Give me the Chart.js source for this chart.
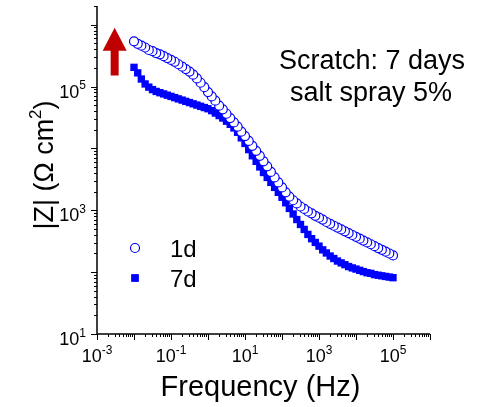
<!DOCTYPE html>
<html>
<head>
<meta charset="utf-8">
<script src="https://cdn.jsdelivr.net/npm/chart.js@4/dist/chart.umd.min.js"></script>
<style>
  html, body { margin: 0; padding: 0; background: #fff; }
</style>
</head>
<body>
<canvas id="chart" width="489" height="407"></canvas>
<script>
// frequency sweep, high -> low (Hz)
const frequency = [
  100000, 79400, 63100, 50100, 39800, 31600, 25100, 20000, 15800, 12600,
  10000, 7940, 6310, 5010, 3980, 3160, 2510, 2000, 1580, 1260,
  1000, 794, 631, 501, 398, 316, 251, 200, 158, 126,
  100, 79.4, 63.1, 50.1, 39.8, 31.6, 25.1, 20, 15.8, 12.6,
  10, 7.94, 6.31, 5.01, 3.98, 3.16, 2.51, 2, 1.58, 1.26,
  1, 0.794, 0.631, 0.501, 0.398, 0.316, 0.251, 0.2, 0.158, 0.126,
  0.1, 0.0794, 0.0631, 0.0501, 0.0398, 0.0316, 0.0251, 0.02, 0.0158, 0.0126,
  0.01
];
// |Z| in ohm cm2
const z1d = [
  186, 200, 214, 229, 245, 263, 282, 302, 324, 347,
  372, 398, 427, 457, 490, 525, 562, 603, 646, 708,
  759, 813, 891, 955, 1050, 1150, 1290, 1450, 1660, 1950,
  2340, 2820, 3390, 4170, 5130, 6170, 7590, 9120, 11000, 13200,
  15800, 18600, 22400, 26300, 30900, 36300, 42700, 49000, 58900, 69200,
  81300, 97700, 115000, 135000, 155000, 174000, 191000, 209000, 229000, 251000,
  269000, 288000, 309000, 331000, 347000, 372000, 389000, 427000, 457000, 490000,
  537000
];
const z7d = [
  81.3, 83.2, 85.1, 87.1, 89.1, 91.2, 95.5, 97.7, 102, 107,
  112, 117, 123, 132, 141, 151, 166, 182, 204, 229,
  263, 302, 347, 407, 490, 589, 708, 871, 1070, 1320,
  1620, 1950, 2340, 2820, 3390, 4070, 5010, 6170, 7590, 9550,
  12000, 14800, 18200, 21400, 24500, 27500, 30900, 33900, 37200, 40700,
  43700, 45700, 47900, 50100, 52500, 55000, 57500, 60300, 63100, 66100,
  69200, 72400, 75900, 79400, 83200, 89100, 97700, 110000, 132000, 166000,
  204000
];
const seriesNames = ['1d', '7d'];
const xLabelExps = [-3, -1, 1, 3, 5];
const yLabelExps = [1, 3, 5];
const noteLines = ['Scratch: 7 days', 'salt spray 5%'];

const FONT = '"Liberation Sans", Arial, sans-serif';
const BLUE = '#0000ff';

function toPoints(ys) {
  return frequency.map((f, i) => ({ x: f, y: ys[i] }));
}

// "10" with a raised exponent, anchored at x according to align
function drawPow(ctx, exp, x, y, align, size) {
  const big = `${size}px ${FONT}`, small = `${Math.round(size * 0.65)}px ${FONT}`;
  ctx.font = big;
  const wb = ctx.measureText('10').width;
  ctx.font = small;
  const we = ctx.measureText(String(exp)).width;
  let x0 = x;
  if (align === 'center') x0 = x - (wb + we) / 2;
  if (align === 'right') x0 = x - (wb + we);
  ctx.textAlign = 'left';
  ctx.textBaseline = 'alphabetic';
  ctx.font = big;
  ctx.fillText('10', x0, y);
  ctx.font = small;
  ctx.fillText(String(exp), x0 + wb, y - size * 0.45);
}

const axesPlugin = {
  id: 'originAxes',
  afterDatasetsDraw(chart) {
    const ctx = chart.ctx;
    const { left, right, top, bottom } = chart.chartArea;
    const xs = chart.scales.x, ys = chart.scales.y;
    ctx.save();
    ctx.strokeStyle = '#000';
    ctx.fillStyle = '#000';
    ctx.lineWidth = 1.5;
    ctx.beginPath();
    ctx.moveTo(left, top);
    ctx.lineTo(left, bottom);
    ctx.lineTo(right, bottom);
    ctx.stroke();

    ctx.lineWidth = 1;
    ctx.beginPath();
    for (let e = -3; e <= 6; e++) {
      for (let m = 1; m < 10; m++) {
        const v = m * Math.pow(10, e);
        if (v > xs.max * 1.0001) break;
        const px = Math.round(xs.getPixelForValue(v)) + 0.5;
        ctx.moveTo(px, bottom);
        ctx.lineTo(px, bottom + (m === 1 ? 6 : 3));
      }
    }
    for (let e = 1; e <= 6; e++) {
      for (let m = 1; m < 10; m++) {
        const v = m * Math.pow(10, e);
        if (v > ys.max * 1.0001) break;
        const py = Math.round(ys.getPixelForValue(v)) + 0.5;
        ctx.moveTo(left, py);
        ctx.lineTo(left - (m === 1 ? 6 : 3), py);
      }
    }
    ctx.stroke();

    // tick labels
    xLabelExps.forEach(e => {
      drawPow(ctx, e, xs.getPixelForValue(Math.pow(10, e)), bottom + 28, 'center', 18);
    });
    yLabelExps.forEach(e => {
      drawPow(ctx, e, left - 11, ys.getPixelForValue(Math.pow(10, e)) + 11, 'right', 18);
    });

    // axis titles
    ctx.font = `29px ${FONT}`;
    ctx.textAlign = 'center';
    ctx.fillText('Frequency (Hz)', (left + right) / 2 - 3, bottom + 62);

    ctx.save();
    ctx.translate(53, 165);
    ctx.rotate(-Math.PI / 2);
    const partA = '|Z| (\u03A9 cm', partB = ')';
    ctx.font = `27px ${FONT}`;
    const wa = ctx.measureText(partA).width, wbb = ctx.measureText(partB).width;
    ctx.font = `17px ${FONT}`;
    const ws = ctx.measureText('2').width;
    let x0 = -(wa + ws + wbb) / 2;
    ctx.textAlign = 'left';
    ctx.font = `27px ${FONT}`;
    ctx.fillText(partA, x0, 0);
    ctx.font = `17px ${FONT}`;
    ctx.fillText('2', x0 + wa, -12);
    ctx.font = `27px ${FONT}`;
    ctx.fillText(partB, x0 + wa + ws, 0);
    ctx.restore();

    // note text
    ctx.font = `27px ${FONT}`;
    ctx.textAlign = 'center';
    ctx.fillText(noteLines[0], 372, 69);
    ctx.fillText(noteLines[1], 371, 101);

    // legend
    const ds = chart.data.datasets;
    const rows = [248, 278];
    ds.forEach((d, i) => {
      ctx.fillStyle = d.backgroundColor;
      ctx.strokeStyle = d.borderColor;
      ctx.lineWidth = d.borderWidth || 1;
      Chart.helpers.drawPoint(ctx, {
        pointStyle: d.pointStyle, radius: d.pointRadius, rotation: 0, borderWidth: d.borderWidth
      }, 135, rows[i]);
      if (d.pointStyle === 'rect') ctx.fill();
      ctx.fillStyle = '#000';
      ctx.font = `24px ${FONT}`;
      ctx.textAlign = 'left';
      ctx.fillText(seriesNames[i], 170, rows[i] + 9);
    });

    // red arrow (placed in data coords)
    const ax = xs.getPixelForValue(0.003);
    const tip = ys.getPixelForValue(891000);
    const neck = ys.getPixelForValue(380000);
    const tail = ys.getPixelForValue(151000);
    ctx.fillStyle = '#c00000';
    ctx.beginPath();
    ctx.moveTo(ax, tip);
    ctx.lineTo(ax + 12, neck);
    ctx.lineTo(ax + 4, neck);
    ctx.lineTo(ax + 4, tail);
    ctx.lineTo(ax - 4, tail);
    ctx.lineTo(ax - 4, neck);
    ctx.lineTo(ax - 12, neck);
    ctx.closePath();
    ctx.fill();
    ctx.restore();
  }
};

new Chart(document.getElementById('chart'), {
  type: 'scatter',
  data: {
    datasets: [
      {
        label: seriesNames[0],
        data: toPoints(z1d),
        pointStyle: 'circle',
        pointRadius: 4.5,
        borderWidth: 1.2,
        borderColor: BLUE,
        backgroundColor: '#ffffff',
        order: 0
      },
      {
        label: seriesNames[1],
        data: toPoints(z7d),
        pointStyle: 'rect',
        pointRadius: 5.2,
        borderWidth: 0,
        borderColor: BLUE,
        backgroundColor: BLUE,
        order: 1
      }
    ]
  },
  options: {
    responsive: false,
    animation: false,
    devicePixelRatio: 1,
    layout: { padding: { left: 97, right: 59, top: 6, bottom: 73 } },
    scales: {
      x: { type: 'logarithmic', min: 0.001, max: 1e6, display: false },
      y: { type: 'logarithmic', min: 10, max: 2e6, display: false }
    },
    plugins: {
      legend: { display: false },
      tooltip: { enabled: false }
    }
  },
  plugins: [axesPlugin]
});
</script>
</body>
</html>
